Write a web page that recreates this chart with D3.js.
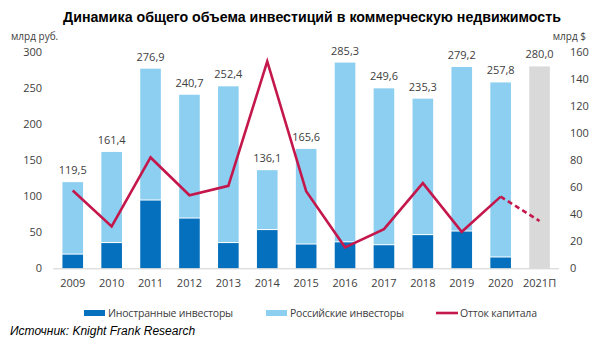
<!DOCTYPE html>
<html>
<head>
<meta charset="utf-8">
<script src="https://cdn.jsdelivr.net/npm/d3@7/dist/d3.min.js"></script>
<style>
  html, body { margin: 0; padding: 0; background: #fff; }
  svg { display: block; }
</style>
</head>
<body>
<svg id="chart" width="602" height="347"></svg>
<script>
// Investment volume, bln RUB (left axis) and capital outflow, bln USD (right axis)
const years = ["2009","2010","2011","2012","2013","2014","2015","2016","2017","2018","2019","2020","2021П"];
const totalInvest = [119.5,161.4,276.9,240.7,252.4,136.1,165.6,285.3,249.6,235.3,279.2,257.8,280.0];
const foreignInvest = [19,35,94,69,35,53,33,36,32,46,51,15,null];
const capitalOutflow = [57.5,31,82,54,61,153,57,15.5,29,63,27,53,35];
const leftTicks = [0,50,100,150,200,250,300];
const rightTicks = [0,20,40,60,80,100,120,140,160];
const forecastIndex = 12;

const colors = { foreign: "#0570bd", russian: "#8dcff0", forecast: "#d9d9d9", outflow: "#c4174c", text: "#404040", axis: "#d0d0d0" };
const font = "'Open Sans', 'Noto Sans', sans-serif";

const svg = d3.select("#chart");
const plotTop = 52, plotBottom = 268.3;

const x = d3.scaleBand().domain(years).range([53.3, 559]).paddingInner(0.47).paddingOuter(0.235);
const yL = d3.scaleLinear().domain([0, 300]).range([plotBottom, plotTop]);
const yR = d3.scaleLinear().domain([0, 160]).range([plotBottom, plotTop]);

// Title
svg.append("text").attr("x", 312).attr("y", 22).attr("text-anchor", "middle")
  .attr("font-family", "Arial, 'Liberation Sans', sans-serif").attr("font-weight", "bold")
  .attr("font-size", 14.2).attr("fill", "#000")
  .text("Динамика общего объема инвестиций в коммерческую недвижимость");

// Axis units
svg.append("text").attr("x", 11).attr("y", 40).attr("font-family", font).attr("font-size", 10)
  .attr("fill", colors.text).text("млрд руб.");
svg.append("text").attr("x", 586).attr("y", 40).attr("text-anchor", "end").attr("font-family", font)
  .attr("font-size", 10).attr("fill", colors.text).text("млрд $");

// Left axis
const axL = svg.append("g").attr("transform", "translate(42,0)")
  .call(d3.axisLeft(yL).tickValues(leftTicks).tickSize(0).tickPadding(0).tickFormat(d3.format("d")));
axL.select(".domain").remove();
axL.selectAll("text").attr("font-family", font).attr("font-size", 11).attr("fill", colors.text);

// Right axis
const axR = svg.append("g").attr("transform", "translate(570,0)")
  .call(d3.axisRight(yR).tickValues(rightTicks).tickSize(0).tickPadding(0).tickFormat(d3.format("d")));
axR.select(".domain").remove();
axR.selectAll("text").attr("font-family", font).attr("font-size", 11).attr("fill", colors.text);

// Bars
const bars = svg.append("g");
years.forEach((yr, i) => {
  const x0 = x(yr), w = x.bandwidth();
  if (i === forecastIndex) {
    bars.append("rect").attr("x", x0).attr("width", w)
      .attr("y", yL(totalInvest[i])).attr("height", yL(0) - yL(totalInvest[i])).attr("fill", colors.forecast);
  } else {
    bars.append("rect").attr("x", x0).attr("width", w)
      .attr("y", yL(totalInvest[i])).attr("height", yL(foreignInvest[i]) - yL(totalInvest[i]) - 1)
      .attr("fill", colors.russian);
    bars.append("rect").attr("x", x0).attr("width", w)
      .attr("y", yL(foreignInvest[i])).attr("height", yL(0) - yL(foreignInvest[i])).attr("fill", colors.foreign);
  }
});

// Bottom axis line and year labels
svg.append("line").attr("x1", x.range()[0]).attr("x2", x.range()[1])
  .attr("y1", plotBottom + 0.5).attr("y2", plotBottom + 0.5).attr("stroke", colors.axis).attr("stroke-width", 1);
const axB = svg.append("g").attr("transform", `translate(0,${plotBottom})`)
  .call(d3.axisBottom(x).tickSize(0).tickPadding(11));
axB.select(".domain").remove();
axB.selectAll("text").attr("font-family", font).attr("font-size", 11).attr("fill", colors.text);

// Value labels
svg.append("g").selectAll("text").data(years).join("text")
  .attr("x", d => x(d) + x.bandwidth() / 2)
  .attr("y", (d, i) => yL(totalInvest[i]) - 8)
  .attr("text-anchor", "middle").attr("font-family", font).attr("font-size", 11).attr("fill", colors.text)
  .text((d, i) => d3.format(".1f")(totalInvest[i]).replace(".", ","));

// Capital outflow line: solid for actuals, dashed for forecast
const cx = d => x(d) + x.bandwidth() / 2;
const line = d3.line().x(d => cx(d.year)).y(d => yR(d.value));
const pts = years.map((year, i) => ({ year, value: capitalOutflow[i] }));
svg.append("path").datum(pts.slice(0, forecastIndex)).attr("d", line)
  .attr("fill", "none").attr("stroke", colors.outflow).attr("stroke-width", 2.6).attr("stroke-linejoin", "miter");
svg.append("path").datum(pts.slice(forecastIndex - 1)).attr("d", line)
  .attr("fill", "none").attr("stroke", colors.outflow).attr("stroke-width", 2.6).attr("stroke-dasharray", "5,3.5");

// Legend
const legend = svg.append("g").attr("font-family", font).attr("font-size", 10.5).attr("fill", colors.text);
const legendItems = [
  { label: "Иностранные инвесторы", color: colors.foreign, x: 84, type: "rect" },
  { label: "Российские инвесторы", color: colors.russian, x: 266, type: "rect" },
  { label: "Отток капитала", color: colors.outflow, x: 436, type: "line" }
];
legendItems.forEach(it => {
  if (it.type === "rect") {
    legend.append("rect").attr("x", it.x).attr("y", 310).attr("width", 21).attr("height", 6).attr("fill", it.color);
  } else {
    legend.append("line").attr("x1", it.x).attr("x2", it.x + 22).attr("y1", 313).attr("y2", 313)
      .attr("stroke", it.color).attr("stroke-width", 2.6);
  }
  legend.append("text").attr("x", it.x + 24).attr("y", 317).attr("fill", colors.text)
    .attr("letter-spacing", -0.2).text(it.label);
});

// Source
svg.append("text").attr("x", 10).attr("y", 335).attr("font-family", "Arial, 'Liberation Sans', sans-serif")
  .attr("font-style", "italic").attr("font-size", 12).attr("fill", "#000")
  .text("Источник: Knight Frank Research");
</script>
</body>
</html>
